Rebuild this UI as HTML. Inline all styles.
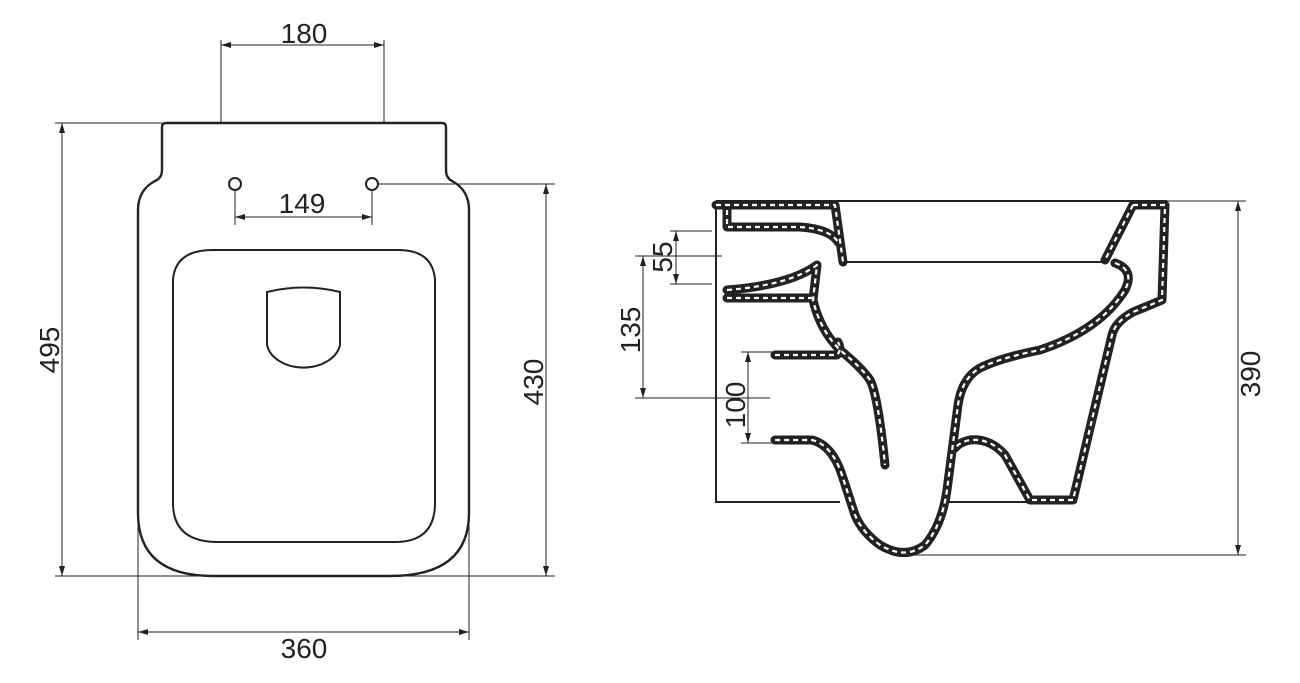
<!DOCTYPE html>
<html><head><meta charset="utf-8"><style>
html,body{margin:0;padding:0;background:#fff;}
svg{display:block;}
text{font-family:"Liberation Sans",sans-serif;fill:#222;}
</style></head><body>
<svg width="1300" height="683" viewBox="0 0 1300 683" xmlns="http://www.w3.org/2000/svg">
<defs>
<marker id="a" viewBox="0 0 10 6" refX="10" refY="3" markerWidth="10" markerHeight="6" orient="auto-start-reverse" markerUnits="userSpaceOnUse">
<path d="M0,0 L10,3 L0,6 Z" fill="#222"/></marker>
</defs>
<g fill="none" stroke="#222" stroke-width="1">
<line x1="221" y1="40" x2="221" y2="123"/><line x1="384" y1="40" x2="384" y2="123"/>
<line x1="221" y1="45" x2="384" y2="45" marker-start="url(#a)" marker-end="url(#a)"/>
<line x1="235" y1="190" x2="235" y2="225"/><line x1="372" y1="190" x2="372" y2="225"/>
<line x1="235" y1="217" x2="372" y2="217" marker-start="url(#a)" marker-end="url(#a)"/>
<line x1="55" y1="123" x2="162" y2="123"/><line x1="55" y1="576" x2="555" y2="576"/>
<line x1="62" y1="123" x2="62" y2="576" marker-start="url(#a)" marker-end="url(#a)"/>
<line x1="378" y1="184" x2="555" y2="184"/>
<line x1="546" y1="184" x2="546" y2="576" marker-start="url(#a)" marker-end="url(#a)"/>
<line x1="138" y1="520" x2="138" y2="640"/><line x1="469" y1="520" x2="469" y2="640"/>
<line x1="138" y1="632" x2="469" y2="632" marker-start="url(#a)" marker-end="url(#a)"/>
<line x1="670" y1="231" x2="712" y2="231"/><line x1="670" y1="284" x2="712" y2="284"/>
<line x1="676" y1="231" x2="676" y2="284" marker-start="url(#a)" marker-end="url(#a)"/>
<line x1="635" y1="256" x2="722" y2="256"/><line x1="635" y1="398" x2="770" y2="398"/>
<line x1="643" y1="256" x2="643" y2="398" marker-start="url(#a)" marker-end="url(#a)"/>
<line x1="741" y1="352" x2="772" y2="352"/><line x1="741" y1="443" x2="772" y2="443"/>
<line x1="748" y1="352" x2="748" y2="443" marker-start="url(#a)" marker-end="url(#a)"/>
<line x1="1165" y1="201" x2="1246" y2="201"/><line x1="900" y1="555" x2="1246" y2="555"/>
<line x1="1238" y1="201" x2="1238" y2="555" marker-start="url(#a)" marker-end="url(#a)"/>
</g>
<g fill="none" stroke="#222" stroke-width="2.4">
<path d="M162,170 L162,127 Q162,123 166,123 L442,123 Q446,123 446,127 L446,170 Q446,178 452,181 Q469,190 469,210 L469,513 Q469,576 390,576 L213,576 Q138,576 138,513 L138,210 Q138,190 155,181 Q162,178 162,170 Z"/>
<path d="M173,280 Q175,250 213,250 L398,250 Q433,250 435,280 L435,503 Q435,542 395,542 L218,542 Q173,542 173,503 Z" stroke-width="2"/>
<path d="M267,292 Q304,283 340,292 L340,345 A37,27 0 0 1 267,345 Z" stroke-width="2"/>
<circle cx="235" cy="184" r="6" stroke-width="2"/><circle cx="372" cy="184" r="6" stroke-width="2"/>
</g>
<g fill="none" stroke="#222" stroke-width="2">
<path d="M716,201 L1167,201"/>
<path d="M716,201 L716,502 L840,502"/>
<path d="M948,502 L1077,502"/>
<path d="M843,262 L1105,262"/>
</g>
<g fill="none" stroke-linecap="round" stroke-linejoin="round">
<g stroke="#222" stroke-width="9">
<path id="w1" d="M716,205 L835,205 L843,262"/>
<path id="w2" d="M727,210 L727,227 L800,227 Q830,229 838,242"/>
<path id="w3" d="M727,290 Q790,285 817,265 L813,300 Q820,330 840,350 Q862,368 870,380 Q878,395 885,465"/>
<path id="w4" d="M727,298 L812,298"/>
<path id="w5" d="M775,355 L837,355 Q842,350 838,342"/>
<path id="w6" d="M1115,263 Q1135,270 1125,290 Q1100,330 1040,350 Q1000,358 980,368 Q962,378 958,405 L947,490 Q942,525 925,545 Q905,560 880,545 Q862,532 855,515 L842,475 Q832,445 812,440 L775,440"/>
<path id="w7" d="M1133,205 L1165,205 L1162,300 Q1148,306 1133,312 Q1115,322 1112,335 L1073,500 L1030,500 L1005,455 Q990,438 970,440 Q960,442 955,448"/>
<path id="w8" d="M1133,205 L1105,260"/>
</g>
<g stroke="#fff" stroke-width="2.2" stroke-dasharray="5 4" stroke-linecap="butt">
<use href="#w1"/><use href="#w2"/><use href="#w3"/><use href="#w4"/><use href="#w5"/><use href="#w6"/><use href="#w7"/><use href="#w8"/>
</g>
</g>
<g font-size="28">
<text x="304" y="43" text-anchor="middle">180</text>
<text x="302" y="213" text-anchor="middle">149</text>
<text x="304" y="658" text-anchor="middle">360</text>
<text transform="translate(59,350) rotate(-90)" text-anchor="middle">495</text>
<text transform="translate(543,382) rotate(-90)" text-anchor="middle">430</text>
<text transform="translate(672,257) rotate(-90)" text-anchor="middle">55</text>
<text transform="translate(640,330) rotate(-90)" text-anchor="middle">135</text>
<text transform="translate(745,405) rotate(-90)" text-anchor="middle">100</text>
<text transform="translate(1260,374) rotate(-90)" text-anchor="middle">390</text>
</g>
</svg>
</body></html>
